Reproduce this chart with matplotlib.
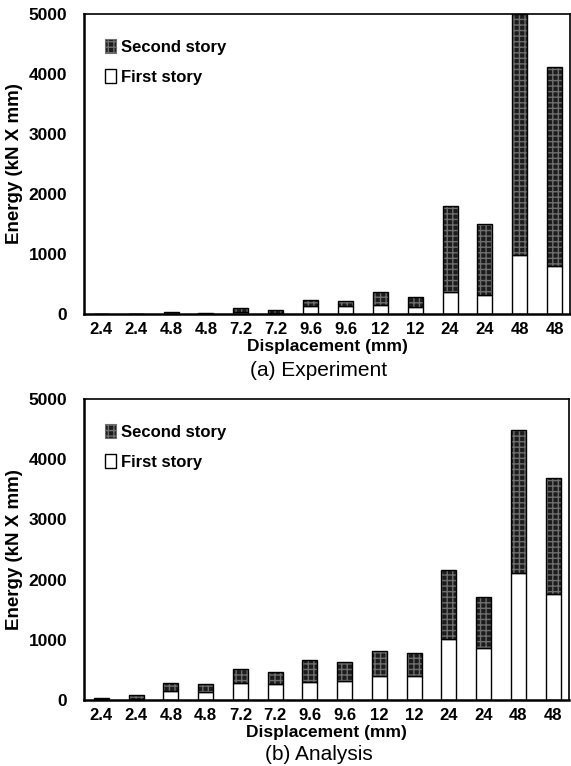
import numpy as np
import matplotlib
matplotlib.use("Agg")
import matplotlib.pyplot as plt
from matplotlib.patches import Patch

plt.rcParams['font.family'] = ['Liberation Sans', 'DejaVu Sans']

# Displacement steps (two cycles per amplitude)
labels = ['2.4', '2.4', '4.8', '4.8', '7.2', '7.2', '9.6', '9.6',
          '12', '12', '24', '24', '48', '48']

# (a) Experiment - energy per story (kN x mm)
exp_first = [2, 2, 5, 4, 28, 15, 139, 139, 155, 117, 366, 322, 982, 794]
exp_total = [5, 5, 28, 10, 94, 72, 228, 222, 366, 277, 1792, 1498, 5000, 4107]

# (b) Analysis - energy per story (kN x mm)
ana_first = [10, 20, 145, 130, 290, 260, 305, 310, 400, 390, 1010, 860, 2115, 1755]
ana_total = [40, 75, 277, 265, 510, 465, 665, 625, 820, 785, 2160, 1715, 4485, 3695]

dark = '#1c1c1c'
dots = '#6e6e6e'


def draw_panel(ax, first, total, caption, cap_y):
    x = np.arange(len(labels))
    first = np.array(first)
    second = np.array(total) - first
    w = 0.43
    ax.bar(x, first, width=w, color='white', edgecolor='black', linewidth=1.0)
    ax.bar(x, second, width=w, bottom=first, color=dark,
           edgecolor=dots, hatch='+++', linewidth=0)
    ax.bar(x, second, width=w, bottom=first, fill=False,
           edgecolor='black', linewidth=1.0)

    ax.set_xlim(-0.5, 13.45)
    ax.set_ylim(0, 5000)
    ax.set_yticks([0, 1000, 2000, 3000, 4000, 5000])
    ax.set_xticks(x)
    ax.set_xticklabels(labels)
    ax.tick_params(axis='y', length=0, pad=12, labelsize=12.5)
    ax.tick_params(axis='x', length=0, pad=6, labelsize=12)
    for t in ax.get_xticklabels() + ax.get_yticklabels():
        t.set_fontweight('bold')
    for s in ax.spines.values():
        s.set_linewidth(1.2)
    ax.spines['left'].set_linewidth(1.8)
    ax.spines['bottom'].set_linewidth(1.8)

    ax.set_xlabel('Displacement (mm)', fontsize=12.5, fontweight='bold', labelpad=1)
    ax.set_ylabel('Energy (kN X mm)', fontsize=13.5, fontweight='bold')
    ax.yaxis.set_label_coords(-0.125, 0.5)

    handles = [Patch(facecolor=dark, edgecolor=dots, hatch='+++', linewidth=0.8),
               Patch(facecolor='white', edgecolor='black', linewidth=1.0)]
    ax.legend(handles, ['Second story', 'First story'], loc='upper left',
              bbox_to_anchor=(0.012, 0.965), frameon=False, handlelength=0.7,
              handleheight=0.9, handletextpad=0.25, labelspacing=0.85,
              prop={'weight': 'bold', 'size': 12})

    ax.figure.text(0.558, cap_y, caption, ha='center', va='center', fontsize=15)


fig = plt.figure(figsize=(5.71, 7.66), dpi=100)
ax1 = fig.add_axes([0.147, 0.590, 0.852, 0.392])
ax2 = fig.add_axes([0.147, 0.0862, 0.849, 0.393])

draw_panel(ax1, exp_first, exp_total, '(a) Experiment', 1 - 371 / 766)
draw_panel(ax2, ana_first, ana_total, '(b) Analysis', 1 - 754 / 766)

fig.savefig('out.png', dpi=100)
